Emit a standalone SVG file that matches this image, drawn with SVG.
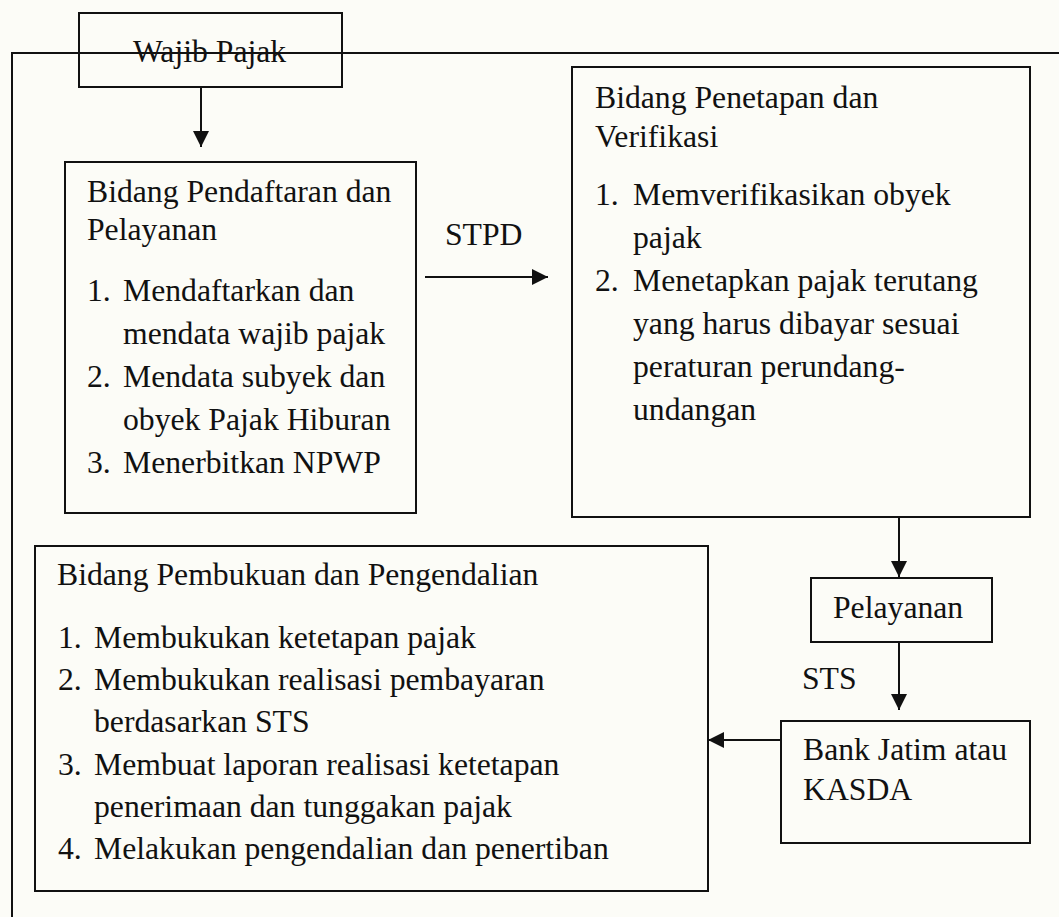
<svg xmlns="http://www.w3.org/2000/svg" width="1059" height="917" viewBox="0 0 1059 917">
  <style>
    .bg { fill: #fcfcf7; }
    .box { fill: none; stroke: #111; stroke-width: 2; }
    .frame { fill: none; stroke: #111; stroke-width: 2; }
    .conn { fill: none; stroke: #111; stroke-width: 2; }
    text { font-family: "Liberation Serif", "Times New Roman", serif; font-size: 31.7px; fill: #111; }
  </style>
  <defs>
    <marker id="arrow" viewBox="0 0 10 10" refX="10" refY="5" markerWidth="16" markerHeight="16" markerUnits="userSpaceOnUse" orient="auto">
      <path d="M0,0 L10,5 L0,10 z" fill="#111"/>
    </marker>
  </defs>
  <rect class="bg" x="0" y="0" width="1059" height="917"/>

  <g id="frame">
    <polyline class="frame" points="12,917 12,53 1059,53"/>
  </g>

  <g id="wajib-pajak">
    <rect class="box" x="79" y="13" width="263" height="74"/>
    <text x="133" y="62">Wajib Pajak</text>
  </g>

  <g id="pendaftaran">
    <rect class="box" x="65" y="162" width="351" height="351"/>
    <text x="87" y="202">Bidang Pendaftaran dan</text>
    <text x="87" y="240">Pelayanan</text>
    <text x="87" y="301">1.</text><text x="123" y="301">Mendaftarkan dan</text>
    <text x="123" y="344">mendata wajib pajak</text>
    <text x="87" y="387">2.</text><text x="123" y="387">Mendata subyek dan</text>
    <text x="123" y="430">obyek Pajak Hiburan</text>
    <text x="87" y="473">3.</text><text x="123" y="473">Menerbitkan NPWP</text>
  </g>

  <g id="penetapan">
    <rect class="box" x="572" y="67" width="458" height="450"/>
    <text x="595" y="108">Bidang Penetapan dan</text>
    <text x="595" y="147">Verifikasi</text>
    <text x="595" y="205">1.</text><text x="633" y="205">Memverifikasikan obyek</text>
    <text x="633" y="248">pajak</text>
    <text x="595" y="291">2.</text><text x="633" y="291">Menetapkan pajak terutang</text>
    <text x="633" y="334">yang harus dibayar sesuai</text>
    <text x="633" y="377">peraturan perundang-</text>
    <text x="633" y="420">undangan</text>
  </g>

  <g id="pelayanan">
    <rect class="box" x="811" y="578" width="181" height="64"/>
    <text x="833" y="618">Pelayanan</text>
  </g>

  <g id="bank">
    <rect class="box" x="781" y="721" width="249" height="122"/>
    <text x="803" y="760">Bank Jatim atau</text>
    <text x="803" y="800">KASDA</text>
  </g>

  <g id="pembukuan">
    <rect class="box" x="35" y="546" width="673" height="345"/>
    <text x="57" y="585">Bidang Pembukuan dan Pengendalian</text>
    <text x="58" y="648">1.</text><text x="94" y="648">Membukukan ketetapan pajak</text>
    <text x="58" y="690">2.</text><text x="94" y="690">Membukukan realisasi pembayaran</text>
    <text x="94" y="732">berdasarkan STS</text>
    <text x="58" y="775">3.</text><text x="94" y="775">Membuat laporan realisasi ketetapan</text>
    <text x="94" y="817">penerimaan dan tunggakan pajak</text>
    <text x="58" y="859">4.</text><text x="94" y="859">Melakukan pengendalian dan penertiban</text>
  </g>

  <g id="connectors">
    <line class="conn" x1="201" y1="87" x2="201" y2="147" marker-end="url(#arrow)"/>
    <line class="conn" x1="425" y1="277" x2="548" y2="277" marker-end="url(#arrow)"/>
    <text x="445" y="245">STPD</text>
    <line class="conn" x1="899" y1="517" x2="899" y2="577" marker-end="url(#arrow)"/>
    <line class="conn" x1="899" y1="642" x2="899" y2="710" marker-end="url(#arrow)"/>
    <text x="802" y="689">STS</text>
    <line class="conn" x1="781" y1="740" x2="708" y2="740" marker-end="url(#arrow)"/>
  </g>
</svg>
